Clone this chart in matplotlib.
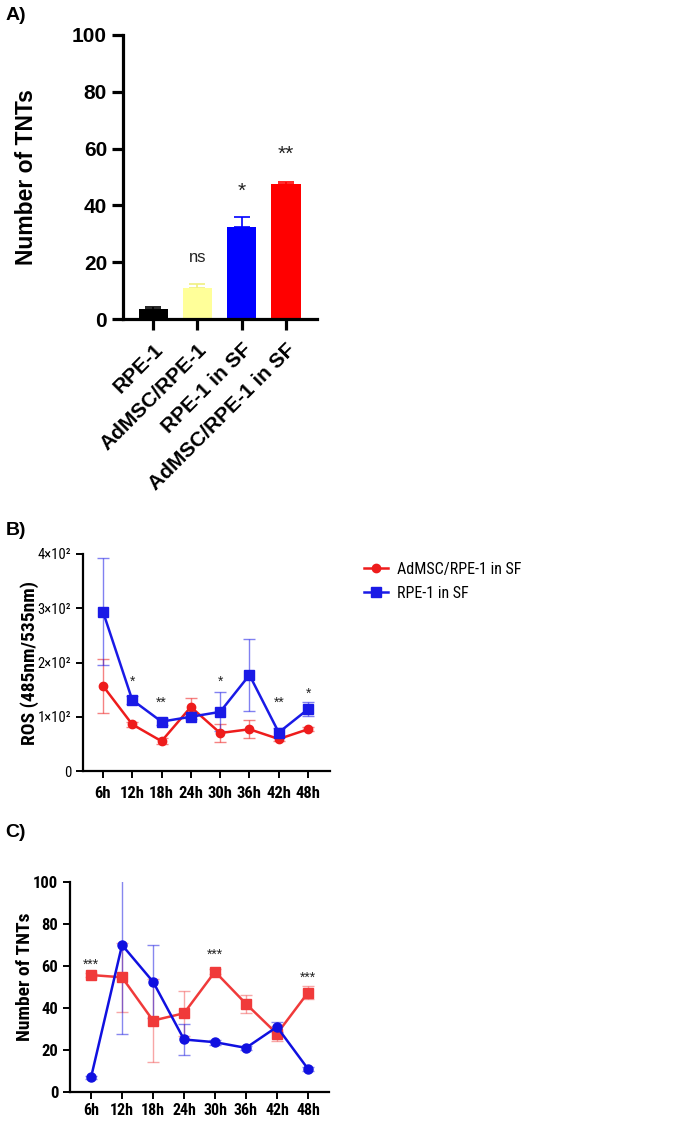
import matplotlib
matplotlib.use("Agg")
import matplotlib.pyplot as plt
import numpy as np

plt.rcParams['font.family'] = ['Liberation Sans', 'DejaVu Sans']
COND = ['Roboto Condensed', 'Liberation Sans', 'DejaVu Sans']

# ---------------- Data ----------------
# Panel A
a_categories = ["RPE-1", "AdMSC/RPE-1", "RPE-1 in SF", "AdMSC/RPE-1 in SF"]
a_values = [3.5, 11.0, 32.5, 47.5]
a_errors = [0.8, 1.5, 3.5, 0.8]
a_colors = ["#000000", "#ffff99", "#0000ff", "#ff0000"]
a_sig = ["", "ns", "*", "**"]
a_sig_y = [0, 21.5, 45, 58]

# Panel B
times = ["6h", "12h", "18h", "24h", "30h", "36h", "42h", "48h"]
b_red = [157, 86, 55, 118, 70, 77, 59, 77]
b_red_err = [50, 5, 6, 17, 16, 17, 4, 4]
b_blue = [294, 131, 91, 100, 109, 177, 71, 114]
b_blue_err = [99, 7, 6, 5, 36, 66, 8, 13]
b_sig = ["", "*", "**", "", "*", "", "**", "*"]
b_sig_y = [0, 165, 126, 0, 165, 0, 126, 143]
b_legend = ["AdMSC/RPE-1 in SF", "RPE-1 in SF"]
b_yticks = [0, 100, 200, 300, 400]
b_yticklabels = ["0", "1×10²", "2×10²", "3×10²", "4×10²"]

# Panel C
c_blue = [7, 70, 52.5, 25, 23.7, 21, 31, 11]
c_blue_err = [0.8, 42.5, 17.5, 7.4, 1.2, 1.0, 2.5, 1.0]
c_red = [55.7, 54.6, 34, 37.5, 57.3, 42, 27.7, 47.3]
c_red_err = [1.0, 16.3, 19.8, 10.8, 1.2, 4.2, 3.5, 3.2]
c_sig = ["***", "", "", "", "***", "", "", "***"]
c_sig_y = [60.8, 0, 0, 0, 65.5, 0, 0, 54.4]

fig = plt.figure(figsize=(6.77, 11.21), dpi=100)

# ---------------- Panel A ----------------
axA = fig.add_axes([0.1817, 0.7154, 0.2866, 0.2534])
xa = np.arange(len(a_categories))
axA.bar(xa, a_values, width=0.66, color=a_colors, zorder=2)
for i in range(len(xa)):
    axA.errorbar(xa[i], a_values[i], yerr=[[0], [a_errors[i]]], fmt='none',
                 ecolor=a_colors[i] if i != 1 else "#f0f080", elinewidth=1.2,
                 capsize=6, capthick=1.2, zorder=1)
    if a_sig[i]:
        axA.text(xa[i], a_sig_y[i], a_sig[i], ha='center', va='center',
                 fontsize=15 if a_sig[i] != "ns" else 12, color='#222222')
axA.set_xlim(-0.68, 3.7)
axA.set_ylim(0, 100)
axA.set_yticks([0, 20, 40, 60, 80, 100])
axA.set_xticks(xa)
axA.set_xticklabels(a_categories, rotation=45, ha='right', rotation_mode='anchor',
                    fontsize=15, fontweight='bold')
for lab in axA.get_yticklabels():
    lab.set_fontweight('bold')
    lab.set_fontsize(15)
axA.set_ylabel("Number of TNTs", fontsize=16.5, fontweight='bold')
axA.yaxis.set_label_coords(-0.44, 0.5)
for s in ['top', 'right']:
    axA.spines[s].set_visible(False)
for s in ['left', 'bottom']:
    axA.spines[s].set_linewidth(2.3)
axA.tick_params(axis='both', width=2.3, length=8)
axA.tick_params(axis='x', pad=7)

# ---------------- Panel B ----------------
red_b = "#ee1c1c"
blue_b = "#1a1ae6"
axB = fig.add_axes([0.1226, 0.3122, 0.3649, 0.1936])
xb = np.arange(len(times))
axB.errorbar(xb, b_red, yerr=b_red_err, fmt='none', ecolor=red_b, alpha=0.55,
             elinewidth=1, capsize=4, capthick=1, clip_on=False, zorder=2)
axB.errorbar(xb, b_blue, yerr=b_blue_err, fmt='none', ecolor=blue_b, alpha=0.55,
             elinewidth=1, capsize=4, capthick=1, clip_on=False, zorder=2)
lr, = axB.plot(xb, b_red, '-o', color=red_b, lw=1.8, ms=6, label=b_legend[0],
               clip_on=False, zorder=3)
lb, = axB.plot(xb, b_blue, '-s', color=blue_b, lw=1.8, ms=6.5, label=b_legend[1],
               clip_on=False, zorder=4)
for i in range(len(xb)):
    if b_sig[i]:
        axB.text(xb[i], b_sig_y[i], b_sig[i], ha='center', va='center', fontsize=10,
                 color='#222222')
axB.set_xlim(-0.68, 7.75)
axB.set_ylim(0, 400)
axB.set_yticks(b_yticks)
axB.set_yticklabels(b_yticklabels, fontsize=10.5, family=COND)
axB.set_xticks(xb)
axB.set_xticklabels(times, fontsize=12, fontweight='bold', family=COND)
axB.set_ylabel("ROS (485nm/535nm)", fontsize=14, fontweight='bold', family=COND)
axB.yaxis.set_label_coords(-0.18, 0.5)
for s in ['top', 'right']:
    axB.spines[s].set_visible(False)
for s in ['left', 'bottom']:
    axB.spines[s].set_linewidth(1.6)
axB.tick_params(axis='both', width=1.4, length=5)
axB.tick_params(axis='x', pad=6)
fig.legend(handles=[lr, lb], labels=b_legend, loc='upper left',
           bbox_to_anchor=(0.516, 0.5115), frameon=False,
           prop={'family': COND, 'size': 11.5},
           handlelength=1.5, handletextpad=0.6, labelspacing=0.55)

# ---------------- Panel C ----------------
red_c = "#f03a3a"
blue_c = "#1010e0"
axC = fig.add_axes([0.1034, 0.0259, 0.3826, 0.1873])
xc = np.arange(len(times))
axC.errorbar(xc, c_red, yerr=c_red_err, fmt='none', ecolor=red_c, alpha=0.45,
             elinewidth=1, capsize=4, capthick=1, zorder=2)
axC.errorbar(xc, c_blue, yerr=c_blue_err, fmt='none', ecolor=blue_c, alpha=0.5,
             elinewidth=1, capsize=4, capthick=1, zorder=2)
axC.plot(xc, c_red, '-s', color=red_c, lw=1.8, ms=6.5, clip_on=False, zorder=3)
axC.plot(xc, c_blue, '-o', color=blue_c, lw=1.8, ms=6.5, clip_on=False, zorder=4)
for i in range(len(xc)):
    if c_sig[i]:
        axC.text(xc[i], c_sig_y[i], c_sig[i], ha='center', va='center', fontsize=10,
                 color='#222222')
axC.set_xlim(-0.68, 7.68)
axC.set_ylim(0, 100)
axC.set_yticks([0, 20, 40, 60, 80, 100])
axC.set_yticklabels(["0", "20", "40", "60", "80", "100"], fontsize=12,
                    fontweight='bold', family=COND)
axC.set_xticks(xc)
axC.set_xticklabels(times, fontsize=11.5, fontweight='bold', family=COND)
axC.set_ylabel("Number of TNTs", fontsize=14, fontweight='bold', family=COND)
axC.yaxis.set_label_coords(-0.14, 0.55)
for s in ['top', 'right']:
    axC.spines[s].set_visible(False)
for s in ['left', 'bottom']:
    axC.spines[s].set_linewidth(1.6)
axC.tick_params(axis='both', width=1.4, length=5)
axC.tick_params(axis='x', pad=3)

# Panel labels
fig.text(0.008, 0.986, "A)", fontsize=14, fontweight='bold', va='center', ha='left')
fig.text(0.008, 0.527, "B)", fontsize=14, fontweight='bold', va='center', ha='left')
fig.text(0.008, 0.257, "C)", fontsize=14, fontweight='bold', va='center', ha='left')

fig.savefig("out.png", dpi=100)
